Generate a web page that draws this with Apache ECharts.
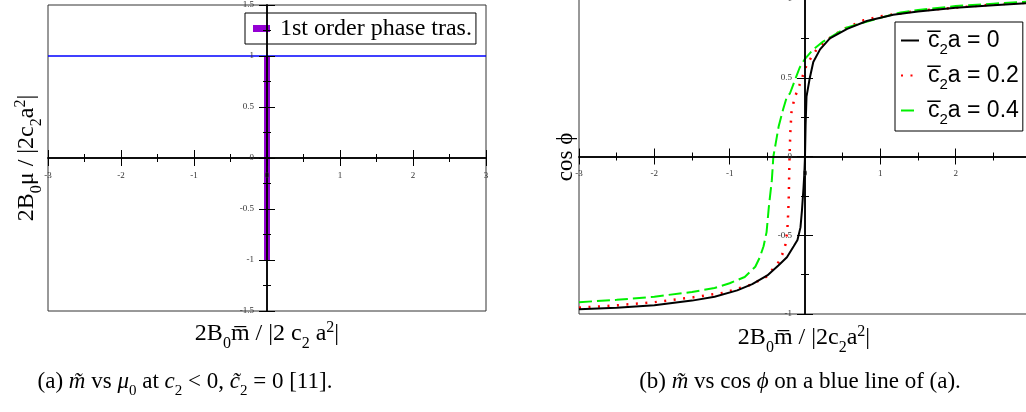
<!DOCTYPE html>
<html><head><meta charset="utf-8">
<script src="https://cdn.jsdelivr.net/npm/echarts@6/dist/echarts.min.js"></script>
<style>html,body{margin:0;padding:0;background:#fff}#c{width:1026px;height:412px}</style>
</head><body><div id="c"></div>
<script>
// ---------- data ----------
const leftXRange = [-3, 3];
const leftYRange = [-1.5, 1.5];
const rightXRange = [-3, 3];
const rightYRange = [-1, 1];
const blueLine = [[-3, 1], [3, 1]];
const transitionLine = [[0, -1], [0, 1]];
const transitionName = '1st order phase tras.';
const curveNames = ['c0', 'c02', 'c04'];
const curveLabels = ['0', '0.2', '0.4'];
const curveC0 = [[-3.0,-0.97],[-2.5,-0.96],[-2.0,-0.945],[-1.5,-0.915],[-1.2,-0.89],[-0.9,-0.85],[-0.7,-0.81],[-0.5,-0.755],[-0.35,-0.69],[-0.24,-0.64],[-0.15,-0.57],[-0.10,-0.53],[-0.06,-0.45],[-0.04,-0.34],[-0.02,-0.2],[-0.008,-0.1],[0,0],[0.008,0.2],[0.02,0.38],[0.06,0.49],[0.11,0.60],[0.20,0.68],[0.33,0.75],[0.56,0.81],[0.82,0.86],[1.17,0.90],[1.5,0.92],[2.0,0.945],[2.5,0.96],[3.0,0.975]];
const curveC02 = [[-3.0,-0.96],[-2.5,-0.945],[-2.0,-0.925],[-1.5,-0.895],[-1.08,-0.865],[-0.9,-0.84],[-0.72,-0.815],[-0.5,-0.76],[-0.42,-0.71],[-0.35,-0.67],[-0.30,-0.62],[-0.26,-0.56],[-0.235,-0.47],[-0.222,-0.35],[-0.215,-0.25],[-0.21,-0.12],[-0.205,0],[-0.195,0.15],[-0.18,0.28],[-0.14,0.37],[-0.10,0.42],[-0.06,0.47],[0.02,0.58],[0.09,0.635],[0.155,0.68],[0.24,0.72],[0.38,0.77],[0.56,0.82],[0.78,0.865],[1.0,0.89],[1.5,0.925],[2.0,0.945],[2.5,0.965],[3.0,0.978]];
const curveC04 = [[-3.0,-0.925],[-2.5,-0.91],[-2.0,-0.89],[-1.5,-0.86],[-1.2,-0.835],[-1.0,-0.805],[-0.8,-0.765],[-0.66,-0.70],[-0.6,-0.64],[-0.55,-0.57],[-0.51,-0.48],[-0.48,-0.32],[-0.44,-0.15],[-0.42,0],[-0.39,0.08],[-0.35,0.19],[-0.29,0.30],[-0.24,0.38],[-0.20,0.40],[-0.13,0.49],[-0.07,0.565],[0,0.62],[0.11,0.68],[0.24,0.73],[0.56,0.82],[1.0,0.88],[1.27,0.915],[1.5,0.93],[2.0,0.955],[2.5,0.97],[3.0,0.985]];

// ---------- helpers ----------
const serif = '"Liberation Serif","Times New Roman",serif';
const sans = '"Liberation Sans",Arial,sans-serif';

function mkAxis(gridIndex, range, interval, position, offset, showLabel) {
  return {
    type: 'value', gridIndex, min: range[0], max: range[1], interval, position, offset, z: 5,
    axisLine: {show: true, onZero: false, lineStyle: {color: '#000', width: 1.5}},
    axisTick: {show: true, inside: false, length: 8, lineStyle: {color: '#000', width: 1}},
    minorTick: {show: true, splitNumber: 2, length: 4, lineStyle: {color: '#000', width: 1}},
    splitLine: {show: false}, minorSplitLine: {show: false},
    axisLabel: {show: showLabel, fontSize: 9, color: '#333', fontFamily: serif, margin: 13,
      showMinLabel: true, showMaxLabel: true, hideOverlap: false, formatter: v => String(v)}
  };
}
function richSet(fs, fam, color) {
  const L = Math.round(fs * 1.55);
  const s = Math.round(fs * 0.65);
  return {
    n: {fontSize: fs, fontFamily: fam, lineHeight: L, fill: color, color},
    f: {fontSize: fs, fontFamily: fam, lineHeight: L, fill: color, color, padding: [0, 0, 0, 4]},
    i: {fontSize: fs, fontFamily: fam, fontStyle: 'italic', lineHeight: L, fill: color, color},
    sb: {fontSize: s, fontFamily: fam, lineHeight: L, padding: [Math.round(fs * 0.8), 0, 0, 0], fill: color, color},
    sp: {fontSize: s, fontFamily: fam, lineHeight: L, padding: [0, 0, Math.round(fs * 0.55), 0], fill: color, color}
  };
}
function txt(x, y, text, fs, rot) {
  return {type: 'text', x, y, rotation: rot || 0,
    style: {text, rich: richSet(fs, serif, '#000'), align: 'center', verticalAlign: 'middle', fill: '#000', font: fs + 'px ' + serif}};
}

const chart = echarts.init(document.getElementById('c'), null, {renderer: 'canvas'});
chart.setOption({
  animation: false,
  backgroundColor: '#fff',
  grid: [
    {left: 48, top: 5, width: 438, height: 306, show: true, borderColor: '#333', borderWidth: 1, containLabel: false, outerBoundsMode: 'none'},
    {left: 579, top: -1, width: 452, height: 315, show: true, borderColor: '#333', borderWidth: 1, containLabel: false, outerBoundsMode: 'none'}
  ],
  xAxis: [
    mkAxis(0, leftXRange, 1, 'bottom', -153, true), mkAxis(0, leftXRange, 1, 'top', -153, false),
    mkAxis(1, rightXRange, 1, 'bottom', -157.5, true), mkAxis(1, rightXRange, 1, 'top', -157.5, false)
  ],
  yAxis: [
    mkAxis(0, leftYRange, 0.5, 'left', -219, true), mkAxis(0, leftYRange, 0.5, 'right', -219, false),
    mkAxis(1, rightYRange, 0.5, 'left', -226, true), mkAxis(1, rightYRange, 0.5, 'right', -226, false)
  ],
  legend: [
    {data: [transitionName], left: 245, top: 13, orient: 'vertical', icon: 'rect', itemWidth: 17, itemHeight: 7,
      padding: [3, 4, 3, 8], borderColor: '#000', borderWidth: 1, backgroundColor: '#fff',
      itemStyle: {borderWidth: 0},
      formatter: name => '{f|' + name + '}',
      textStyle: {fontFamily: serif, fontSize: 24, color: '#000', lineHeight: 25,
        rich: {f: {fontFamily: serif, fontSize: 24, lineHeight: 25, color: '#000', padding: [0, 0, 0, 5]}}}},
    {data: curveNames, left: 895, top: 22, orient: 'vertical', itemWidth: 18, itemHeight: 14, itemGap: 2,
      padding: [2, 4, 4, 5], borderColor: '#000', borderWidth: 1, backgroundColor: '#fff',
      itemStyle: {opacity: 0},
      formatter: name => '{f|c\u0305}{sb|2}{n|a = ' + curveLabels[curveNames.indexOf(name)] + '}',
      textStyle: {fontFamily: sans, fontSize: 23, color: '#000', rich: richSet(23, sans, '#000')}}
  ],
  series: [
    {type: 'line', name: 'mu1', xAxisIndex: 0, yAxisIndex: 0, data: blueLine, symbol: 'none',
      lineStyle: {color: '#0000ff', width: 1.5}, itemStyle: {color: '#0000ff'}, z: 2},
    {type: 'line', name: transitionName, xAxisIndex: 0, yAxisIndex: 0, data: transitionLine, symbol: 'none',
      lineStyle: {color: '#9400d3', width: 6}, itemStyle: {color: '#9400d3'}, z: 2},
    {type: 'line', name: 'c0', xAxisIndex: 2, yAxisIndex: 2, data: curveC0, symbol: 'none',
      lineStyle: {color: '#000', width: 2}, itemStyle: {color: '#000'}, z: 4},
    {type: 'line', name: 'c02', xAxisIndex: 2, yAxisIndex: 2, data: curveC02, symbol: 'none',
      lineStyle: {color: '#ff0000', width: 2.5, type: [2, 7.5]}, itemStyle: {color: '#ff0000'}, z: 3},
    {type: 'line', name: 'c04', xAxisIndex: 2, yAxisIndex: 2, data: curveC04, symbol: 'none',
      lineStyle: {color: '#00f000', width: 2, type: [13, 5]}, itemStyle: {color: '#00f000'}, z: 3}
  ],
  graphic: [
    txt(267, 334, '{n|2B}{sb|0}{n|m\u0305 / |2 c}{sb|2}{n| a}{sp|2}{n||}', 24),
    txt(804, 338, '{n|2B}{sb|0}{n|m\u0305 / |2c}{sb|2}{n|a}{sp|2}{n||}', 24),
    txt(27, 158, '{n|2B}{sb|0}{n|μ / |2c}{sb|2}{n|a}{sp|2}{n||}', 24, Math.PI / 2),
    txt(566, 157, '{n|cos ϕ}', 23, Math.PI / 2),
    txt(185, 382, '{n|(a) }{i|m\u0303}{n| vs }{i|μ}{sb|0}{n| at }{i|c}{sb|2}{n| < 0, }{i|c\u0303}{sb|2}{n| = 0 [11].}', 23),
    txt(800, 382, '{n|(b) }{i|m\u0303}{n| vs cos }{i|ϕ}{n| on a blue line of (a).}', 23)
  ]
});
</script>
</body></html>
